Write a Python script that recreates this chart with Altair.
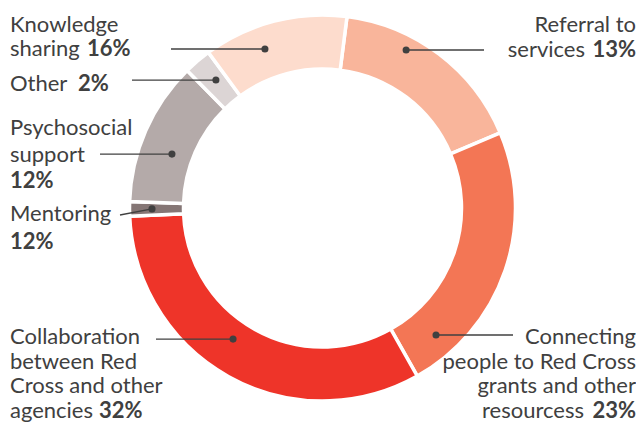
import math
import altair as alt
import pandas as pd

# ---- data ----
keys = ["Referral", "Connecting", "Collaboration", "Mentoring", "Psychosocial", "Other", "Knowledge"]
shares = [16.6, 23.2, 32.5, 1.2, 12.1, 2.3, 12.1]          # angular share of ring (clockwise from Referral)
pct_labels = ["13%", "23%", "32%", "12%", "12%", "2%", "16%"]  # printed percentages
colors = ["#F9B59B", "#F37655", "#EE3429", "#857675", "#B4AAA9", "#DCD5D5", "#FDDCCD"]

label_lines = {
    "Referral": ["Referral to", "services"],
    "Connecting": ["Connecting", "people to Red Cross", "grants and other", "resourcess"],
    "Collaboration": ["Collaboration", "between Red", "Cross and other", "agencies"],
    "Mentoring": ["Mentoring", ""],
    "Psychosocial": ["Psychosocial", "support", ""],
    "Other": ["Other"],
    "Knowledge": ["Knowledge", "sharing"],
}

# ---- layout (chart pixel space) ----
W, H = 628, 409
CX, CY = 314.5, 198
R_OUT, R_IN = 193, 139
START = math.radians(7.3)
FS = 22
TXT = "#404040"
FONT = "Lato"

layout = {
    "Referral":      dict(side="right", x=628, y0=22, lh=25, bold_gap=51),
    "Connecting":    dict(side="right", x=628, y0=334, lh=24.5, bold_gap=52),
    "Collaboration": dict(side="left", x=2, y0=334, lh=24.5, bold_x=91),
    "Mentoring":     dict(side="left", x=2, y0=211, lh=28, bold_x=2),
    "Psychosocial":  dict(side="left", x=2, y0=125, lh=26.5, bold_x=2),
    "Other":         dict(side="left", x=2, y0=81, lh=25, bold_x=70),
    "Knowledge":     dict(side="left", x=2, y0=21.5, lh=24.5, bold_x=79),
}
# dot placement (angle clockwise from 12 o'clock, radius) and leader-line end
dots = {
    "Referral": (27.9, 178.7, 476, None),
    "Connecting": (138.2, 170.3, 505, None),
    "Collaboration": (214.3, 158.7, 148, None),
    "Mentoring": (269.7, 170.5, 112, 205),
    "Psychosocial": (289.7, 159.9, 92, None),
    "Other": (320.2, 166.5, 124, None),
    "Knowledge": (340.1, 169.1, 163, None),
}

ring = pd.DataFrame({"key": keys, "share": shares, "idx": list(range(len(keys)))})

reg_rows, bold_rows = [], []
for k, pct in zip(keys, pct_labels):
    L = layout[k]
    lines = label_lines[k]
    for i, t in enumerate(lines):
        y = L["y0"] + i * L["lh"]
        last = i == len(lines) - 1
        if L["side"] == "left":
            if t:
                reg_rows.append(dict(t=t, x=L["x"], y=y, side="left"))
            if last:
                bold_rows.append(dict(t=pct, x=L["bold_x"], y=y, side="left"))
        else:
            if last:
                bold_rows.append(dict(t=pct, x=L["x"], y=y, side="right"))
                reg_rows.append(dict(t=t, x=L["x"] - L["bold_gap"], y=y, side="right"))
            else:
                reg_rows.append(dict(t=t, x=L["x"], y=y, side="right"))
reg = pd.DataFrame(reg_rows)
bold = pd.DataFrame(bold_rows)

dot_rows = []
for k in keys:
    a, r, xe, ye = dots[k]
    x = CX + r * math.sin(math.radians(a))
    y = CY - r * math.cos(math.radians(a))
    dot_rows.append(dict(key=k, x=x, y=y, x2=xe, y2=(ye if ye is not None else y)))
dd = pd.DataFrame(dot_rows)

xs = alt.Scale(domain=[0, W], range=[0, W], nice=False, zero=False)
ys = alt.Scale(domain=[0, H], range=[0, H], nice=False, zero=False)

arc = alt.Chart(ring).mark_arc(outerRadius=R_OUT, innerRadius=R_IN, stroke="white", strokeWidth=3.5).encode(
    theta=alt.Theta("share:Q", stack=True, scale=alt.Scale(range=[START, START + 2 * math.pi])),
    color=alt.Color("key:N", scale=alt.Scale(domain=keys, range=colors), legend=None),
    order=alt.Order("idx:Q"),
    x=alt.value(CX),
    y=alt.value(CY),
)

rules = alt.Chart(dd).mark_rule(color=TXT, strokeWidth=1.4).encode(
    x=alt.X("x:Q", scale=xs, axis=None),
    y=alt.Y("y:Q", scale=ys, axis=None),
    x2="x2:Q",
    y2="y2:Q",
)
pts = alt.Chart(dd).mark_point(filled=True, size=50, color=TXT, opacity=1).encode(
    x=alt.X("x:Q", scale=xs, axis=None),
    y=alt.Y("y:Q", scale=ys, axis=None),
)

def text_layer(df, side, weight):
    return alt.Chart(df[df.side == side]).mark_text(
        align=side, baseline="alphabetic", font=FONT, fontSize=FS, fontWeight=weight, color=TXT
    ).encode(
        x=alt.X("x:Q", scale=xs, axis=None),
        y=alt.Y("y:Q", scale=ys, axis=None),
        text="t:N",
    )

chart = alt.layer(
    arc, rules, pts,
    text_layer(reg, "left", "normal"), text_layer(reg, "right", "normal"),
    text_layer(bold, "left", "bold"), text_layer(bold, "right", "bold"),
).properties(width=W, height=H, padding=0, background="white").configure_view(stroke=None)

chart.save("out.html", embed_options={"renderer": "svg", "actions": False})
